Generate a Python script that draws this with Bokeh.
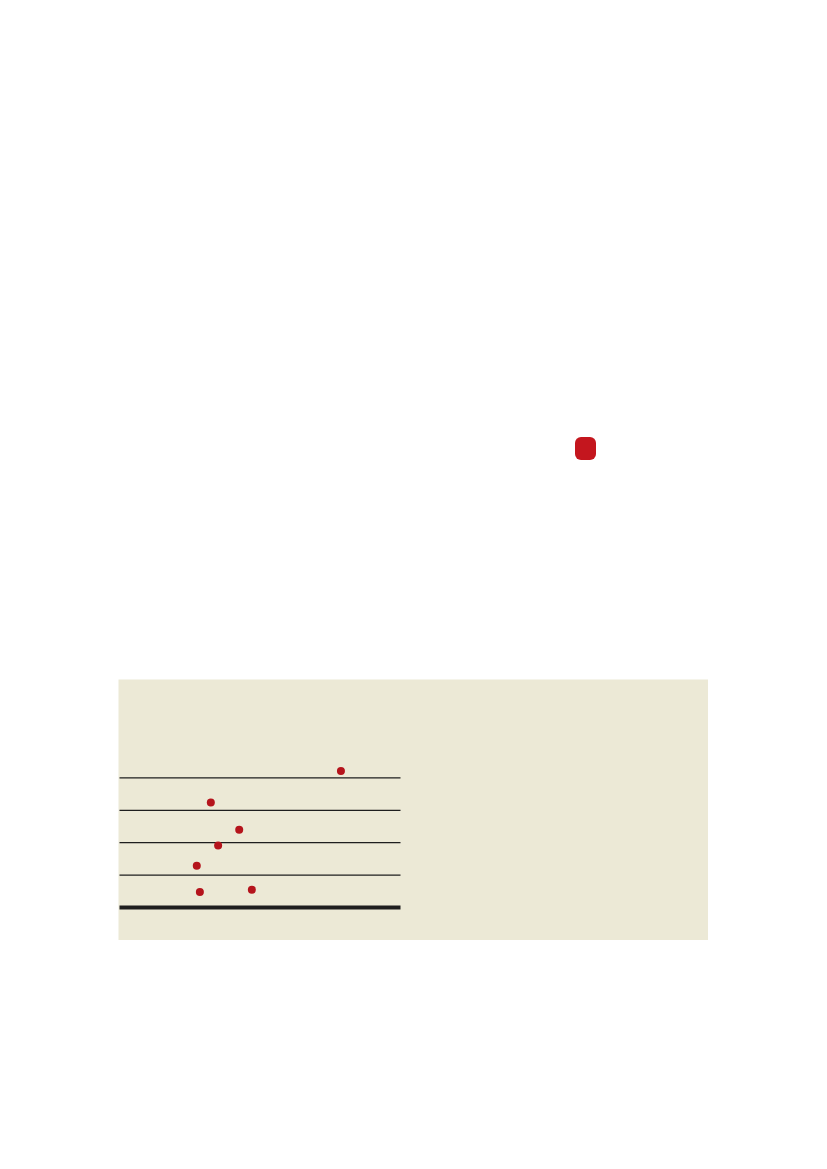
from bokeh.plotting import figure
from bokeh.layouts import column, row
from bokeh.models import Range1d, Spacer, Div
from bokeh.embed import file_html
from bokeh.resources import INLINE

# Data (x in 0-100 scale units, y in row units)
dot_x = [78.8, 32.5, 42.6, 35.1, 27.5, 28.6, 47.1]
dot_y = [4.21, 3.24, 2.40, 1.91, 1.29, 0.48, 0.55]
rule_rows = [1, 2, 3, 4]
baseline = [0]
scale_min, scale_max = 0, 100

BEIGE = "#ECE9D6"
RED = "#B5141C"
INK = "#1e1e1e"

PX_X = 2.81   # pixels per x unit
PX_Y = 32.4   # pixels per row

p = figure(width=590, height=261, output_backend="svg", toolbar_location=None,
           x_range=Range1d(-1 / PX_X, 589 / PX_X),
           y_range=Range1d(-33 / PX_Y, 228 / PX_Y),
           min_border_left=0, min_border_right=0, min_border_top=0, min_border_bottom=0)
p.background_fill_color = BEIGE
p.border_fill_color = BEIGE
p.outline_line_color = None
p.xaxis.visible = False
p.yaxis.visible = False
p.grid.visible = False

p.segment(x0=[scale_min] * len(rule_rows), x1=[scale_max] * len(rule_rows),
          y0=rule_rows, y1=rule_rows, line_color=INK, line_width=1.3)
p.segment(x0=[scale_min], x1=[scale_max], y0=baseline, y1=baseline,
          line_color=INK, line_width=4)
p.scatter(dot_x, dot_y, size=8, fill_color=RED, line_color=None)

marker = Div(width=21, height=23, styles={"background-color": "#C4161E", "border-radius": "6px"})

layout = column(
    Spacer(height=432),
    row(Spacer(width=570), marker),
    Spacer(height=214),
    row(Spacer(width=118), p),
)

open("out.html", "w").write(file_html(layout, INLINE))
